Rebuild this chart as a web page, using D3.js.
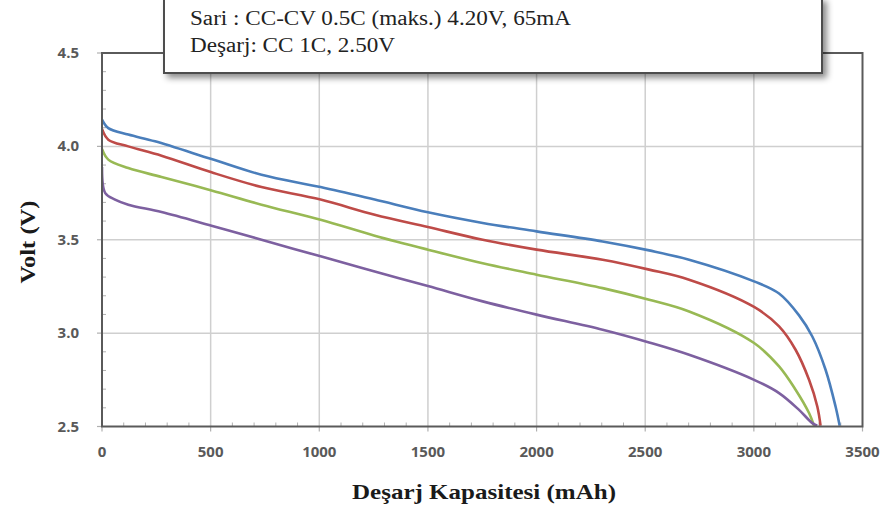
<!DOCTYPE html>
<html>
<head>
<meta charset="utf-8">
<script src="https://cdn.jsdelivr.net/npm/d3@7"></script>
<style>
  body { margin: 0; background: #fff; }
  svg { display: block; }
</style>
</head>
<body>
<div id="chart"></div>
<script>
var WIDTH = 893, HEIGHT = 511
var PLOT = {LEFT: 102, RIGHT: 862.5, TOP: 53, BOTTOM: 426.5}

// discharge curves (capacity in mAh, voltage in V)
var blueCap  = [0, 29, 121, 244, 504, 734, 1006, 1255, 1500, 1752, 2000, 2304, 2518, 2702, 3001, 3116, 3208, 3269, 3330, 3376, 3395]
var blueVolt = [4.143, 4.098, 4.063, 4.027, 3.932, 3.848, 3.782, 3.715, 3.647, 3.59, 3.545, 3.491, 3.443, 3.393, 3.277, 3.212, 3.095, 2.982, 2.804, 2.607, 2.504]

var redCap  = [0, 29, 121, 274, 504, 734, 1006, 1255, 1500, 1752, 2000, 2304, 2518, 2702, 3001, 3116, 3192, 3254, 3292, 3307]
var redVolt = [4.093, 4.036, 4.0, 3.95, 3.861, 3.782, 3.715, 3.634, 3.568, 3.5, 3.447, 3.393, 3.340, 3.286, 3.140, 3.036, 2.911, 2.75, 2.607, 2.504]

var greenCap  = [0, 29, 121, 274, 504, 734, 1006, 1255, 1500, 1752, 2000, 2304, 2518, 2702, 3001, 3116, 3192, 3254, 3277]
var greenVolt = [3.986, 3.929, 3.884, 3.836, 3.764, 3.688, 3.607, 3.522, 3.447, 3.374, 3.313, 3.241, 3.179, 3.116, 2.947, 2.822, 2.697, 2.572, 2.504]

var purpleCap  = [0, 15, 60, 121, 274, 504, 734, 1006, 1255, 1500, 1752, 2000, 2304, 2518, 2702, 3001, 3116, 3208, 3269, 3292]
var purpleVolt = [3.89, 3.75, 3.715, 3.688, 3.648, 3.575, 3.5, 3.411, 3.330, 3.252, 3.170, 3.099, 3.018, 2.95, 2.884, 2.75, 2.679, 2.589, 2.518, 2.504]

var xTicks = [0, 500, 1000, 1500, 2000, 2500, 3000, 3500]
var yTicks = [2.5, 3.0, 3.5, 4.0, 4.5]

var legendLines = ["Sari : CC-CV 0.5C (maks.) 4.20V, 65mA", "Deşarj: CC 1C, 2.50V"]
var xTitle = "Deşarj Kapasitesi (mAh)"
var yTitle = "Volt (V)"

var series = [
  {cap: blueCap, volt: blueVolt, color: "#4a7ebb"},
  {cap: redCap, volt: redVolt, color: "#be4b48"},
  {cap: greenCap, volt: greenVolt, color: "#98b954"},
  {cap: purpleCap, volt: purpleVolt, color: "#7d60a0"}
]

var svg = d3.select("#chart").append("svg")
  .attr("width", WIDTH)
  .attr("height", HEIGHT)

var x = d3.scaleLinear().domain([0, 3500]).range([PLOT.LEFT, PLOT.RIGHT])
var y = d3.scaleLinear().domain([2.5, 4.5]).range([PLOT.BOTTOM, PLOT.TOP])

// grid lines at the major ticks
svg.append("g").selectAll("line")
  .data(xTicks.slice(1, -1))
  .enter().append("line")
  .attr("x1", d => x(d)).attr("x2", d => x(d))
  .attr("y1", PLOT.TOP).attr("y2", PLOT.BOTTOM)
  .style("stroke", "#cfcfcf").style("stroke-width", 1.5)

svg.append("g").selectAll("line")
  .data(yTicks.slice(1, -1))
  .enter().append("line")
  .attr("x1", PLOT.LEFT).attr("x2", PLOT.RIGHT)
  .attr("y1", d => y(d)).attr("y2", d => y(d))
  .style("stroke", "#cfcfcf").style("stroke-width", 1.5)

// minor ticks inside the frame
svg.append("g").selectAll("line")
  .data(d3.range(100, 3500, 100).filter(d => d % 500 != 0))
  .enter().append("line")
  .attr("x1", d => x(d)).attr("x2", d => x(d))
  .attr("y1", PLOT.BOTTOM - 4).attr("y2", PLOT.BOTTOM)
  .style("stroke", "#b0b0b0").style("stroke-width", 1)

svg.append("g").selectAll("line")
  .data(d3.range(26, 45).map(d => d / 10).filter(d => Math.round(d * 10) % 5 != 0))
  .enter().append("line")
  .attr("x1", PLOT.LEFT).attr("x2", PLOT.LEFT + 4)
  .attr("y1", d => y(d)).attr("y2", d => y(d))
  .style("stroke", "#b0b0b0").style("stroke-width", 1)

// major ticks poking outside
svg.append("g").selectAll("line")
  .data(xTicks)
  .enter().append("line")
  .attr("x1", d => x(d)).attr("x2", d => x(d))
  .attr("y1", PLOT.BOTTOM).attr("y2", PLOT.BOTTOM + 5)
  .style("stroke", "#b0b0b0").style("stroke-width", 1.2)

svg.append("g").selectAll("line")
  .data(yTicks)
  .enter().append("line")
  .attr("x1", PLOT.LEFT - 5).attr("x2", PLOT.LEFT)
  .attr("y1", d => y(d)).attr("y2", d => y(d))
  .style("stroke", "#b0b0b0").style("stroke-width", 1.2)

// curves
svg.append("clipPath").attr("id", "clip")
  .append("rect")
  .attr("x", PLOT.LEFT).attr("y", PLOT.TOP)
  .attr("width", PLOT.RIGHT - PLOT.LEFT).attr("height", PLOT.BOTTOM - PLOT.TOP)

var line = d3.line()
  .x(d => x(d[0]))
  .y(d => y(d[1]))
  .curve(d3.curveCatmullRom.alpha(0.5))

svg.append("g").attr("clip-path", "url(#clip)")
  .selectAll("path")
  .data(series)
  .enter().append("path")
  .attr("d", s => line(s.cap.map((c, i) => [c, s.volt[i]])))
  .style("fill", "none")
  .style("stroke", s => s.color)
  .style("stroke-width", 2.6)
  .style("stroke-linejoin", "round")

// frame
svg.append("rect")
  .attr("x", PLOT.LEFT).attr("y", PLOT.TOP)
  .attr("width", PLOT.RIGHT - PLOT.LEFT).attr("height", PLOT.BOTTOM - PLOT.TOP)
  .style("fill", "none")
  .style("stroke", "#5a5a5a")
  .style("stroke-width", 2)

// tick labels
svg.append("g").selectAll("text")
  .data(xTicks)
  .enter().append("text")
  .attr("x", d => x(d))
  .attr("y", 457)
  .attr("text-anchor", "middle")
  .style("font-family", "'Open Sans', sans-serif")
  .style("font-weight", "bold")
  .style("font-size", "15px")
  .style("fill", "#595959")
  .text(d => d)

svg.append("g").selectAll("text")
  .data(yTicks)
  .enter().append("text")
  .attr("x", 79)
  .attr("y", d => y(d) + 5)
  .attr("text-anchor", "end")
  .style("font-family", "'Open Sans', sans-serif")
  .style("font-weight", "bold")
  .style("font-size", "15px")
  .style("fill", "#595959")
  .text(d => d.toFixed(1))

// axis titles
svg.append("text")
  .attr("x", 484)
  .attr("y", 499)
  .attr("text-anchor", "middle")
  .attr("textLength", 264)
  .attr("lengthAdjust", "spacingAndGlyphs")
  .style("font-family", "'Liberation Serif', serif")
  .style("font-weight", "bold")
  .style("font-size", "22px")
  .style("fill", "#1a1a1a")
  .text(xTitle)

svg.append("text")
  .attr("transform", "translate(35, 242) rotate(-90)")
  .attr("text-anchor", "middle")
  .attr("textLength", 83)
  .attr("lengthAdjust", "spacingAndGlyphs")
  .style("font-family", "'Liberation Serif', serif")
  .style("font-weight", "bold")
  .style("font-size", "22px")
  .style("fill", "#1a1a1a")
  .text(yTitle)

// note box with shadow
var defs = svg.append("defs")
var filter = defs.append("filter").attr("id", "shadow")
  .attr("x", "-5%").attr("y", "-20%").attr("width", "115%").attr("height", "150%")
filter.append("feDropShadow")
  .attr("dx", 4).attr("dy", 4).attr("stdDeviation", 3)
  .attr("flood-color", "#000").attr("flood-opacity", 0.45)

svg.append("rect")
  .attr("x", 164).attr("y", -2)
  .attr("width", 658).attr("height", 75)
  .style("fill", "#fff")
  .style("stroke", "#4d4d4d")
  .style("stroke-width", 2)
  .attr("filter", "url(#shadow)")

var legendWidths = [381, 205]
svg.append("g").selectAll("text")
  .data(legendLines)
  .enter().append("text")
  .attr("x", 190)
  .attr("y", (d, i) => 25 + i * 27)
  .attr("textLength", (d, i) => legendWidths[i])
  .attr("lengthAdjust", "spacingAndGlyphs")
  .style("font-family", "'Liberation Serif', serif")
  .style("font-size", "20px")
  .style("fill", "#222")
  .text(d => d)
</script>
</body>
</html>
